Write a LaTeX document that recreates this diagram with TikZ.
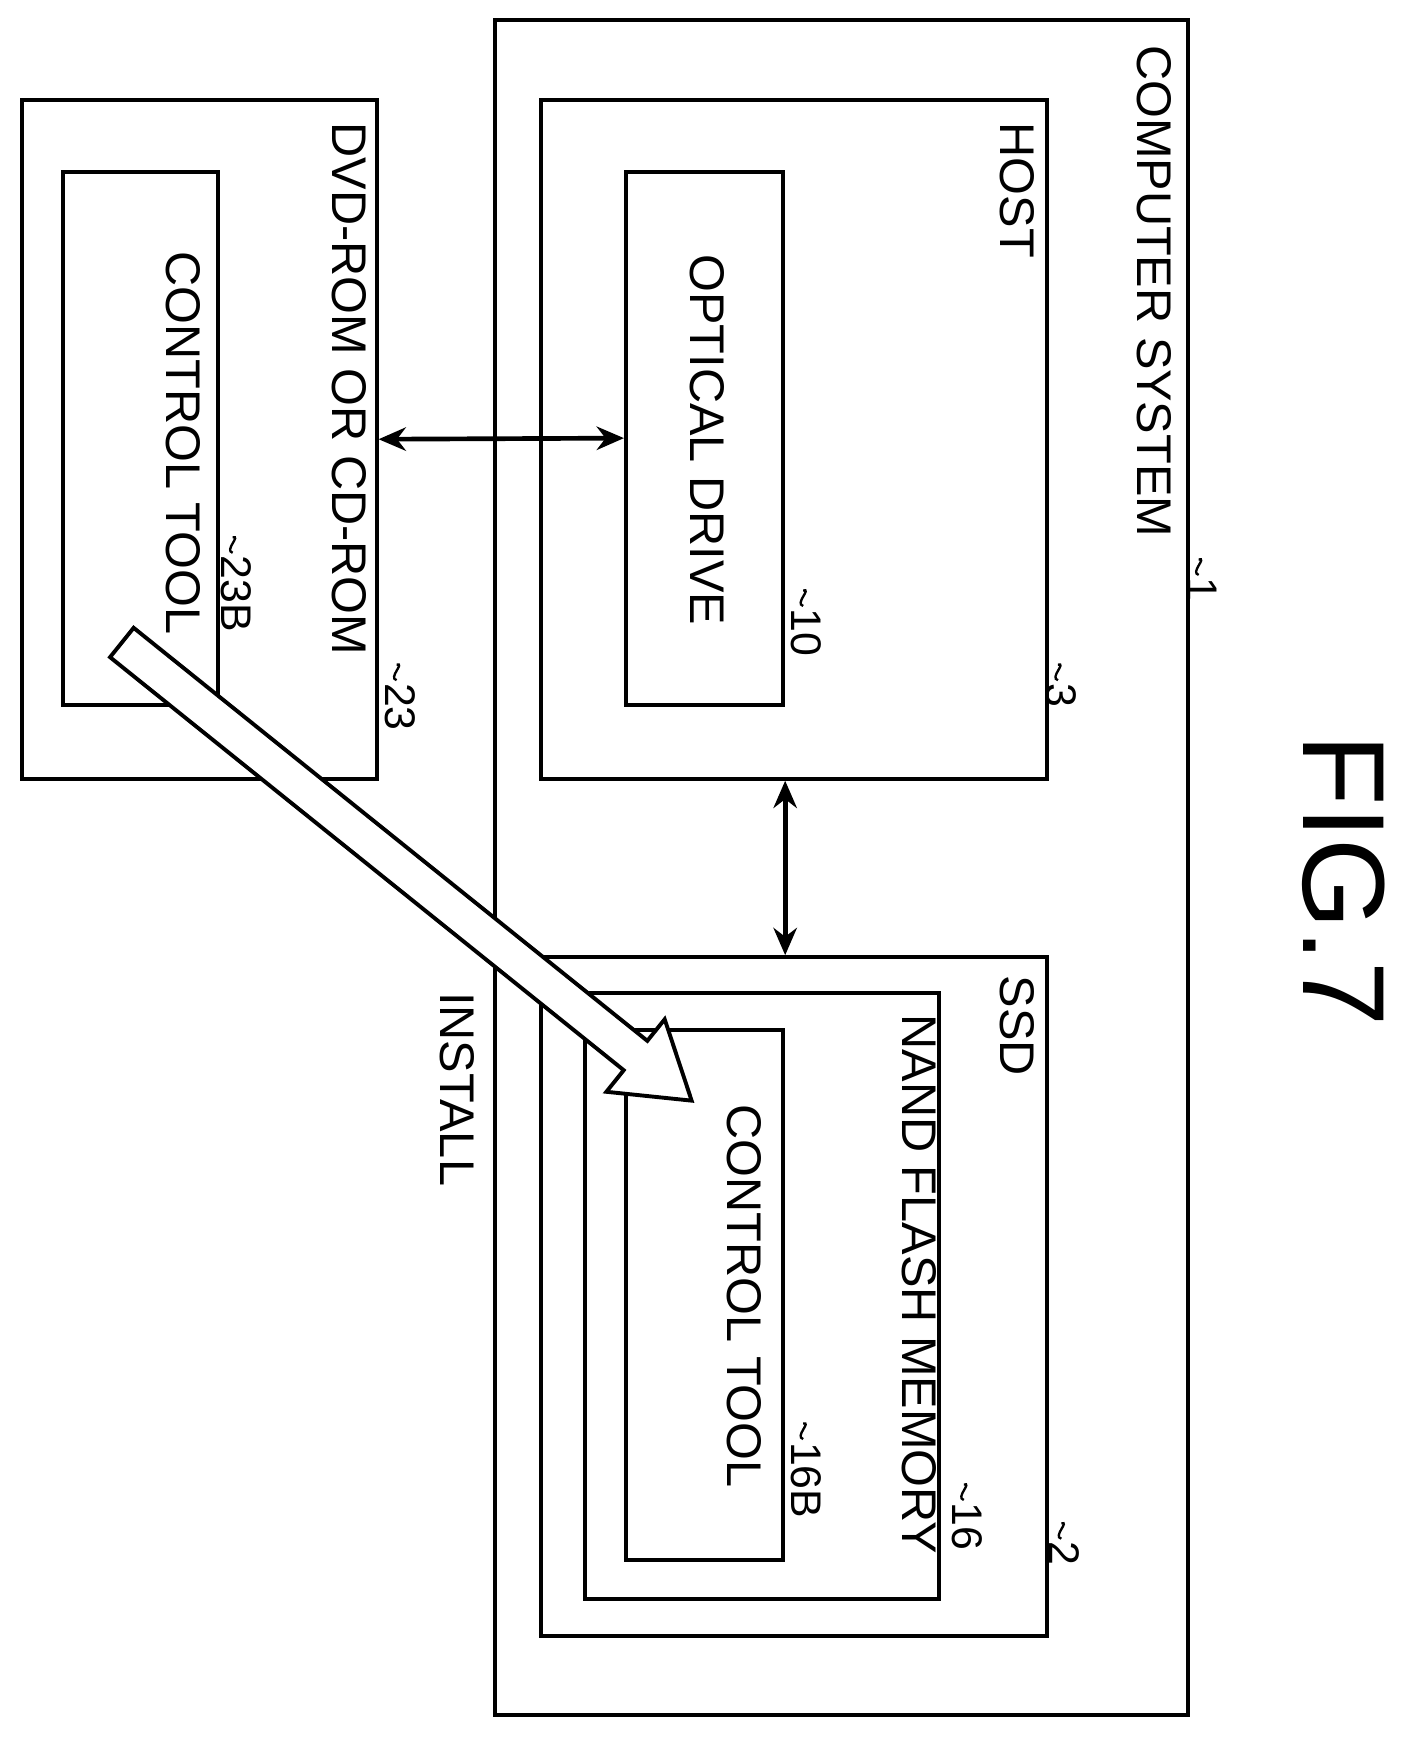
\documentclass[tikz,border=0pt]{standalone}
\usepackage{fontspec}
\setmainfont{Liberation Sans}
\usetikzlibrary{arrows.meta}
\tikzset{
  box/.style={draw, line width=1pt, inner sep=0pt},
  lbl/.style={rotate=-90, anchor=west, inner sep=0pt, font=\fontsize{12.5}{14}\selectfont},
  refn/.style={rotate=-90, anchor=west, inner sep=0pt, font=\fontsize{11}{13}\selectfont},
  link/.style={{Stealth[length=7pt,width=6pt]}-{Stealth[length=7pt,width=6pt]}, line width=1.2pt}
}
% reference mark: squiggle then number
\newcommand{\refmark}[3]{%
  \draw[line width=0.6pt] (#1,#2) .. controls (#1+0.08,#2+0.02) and (#1-0.08,#2-0.12) .. (#1,#2-0.14);
  \node[refn] at (#1+0.03,#2-0.16) {#3};}
\begin{document}
\begin{tikzpicture}
\useasboundingbox (0,0) rectangle (12.8,-15.77);
% outer system
\node[box, minimum width=6.25cm, minimum height=15.3cm] (sys) at (7.595,-7.83) {};
\node[lbl] (syslbl) at (10.42,-0.4) {COMPUTER SYSTEM};
\refmark{10.82}{-5.05}{1}
% host
\node[box, minimum width=4.57cm, minimum height=6.13cm] (host) at (7.165,-3.965) {};
\node[lbl] (hostlbl) at (9.18,-1.1) {HOST};
\refmark{9.55}{-6.0}{3}
\node[box, minimum width=1.42cm, minimum height=4.81cm] (drive) at (6.36,-3.955) {};
\node[lbl, anchor=center] (drivelbl) at (6.38,-3.97) {OPTICAL DRIVE};
\refmark{7.25}{-5.33}{10}
% ssd
\node[box, minimum width=4.57cm, minimum height=6.13cm] (ssd) at (7.165,-11.705) {};
\node[lbl] (ssdlbl) at (9.18,-8.8) {SSD};
\refmark{9.58}{-13.75}{2}
\node[box, minimum width=3.2cm, minimum height=5.47cm] (nand) at (6.88,-11.695) {};
\node[lbl] (nandlbl) at (8.3,-9.15) {NAND FLASH MEMORY};
\refmark{8.7}{-13.4}{16}
\node[box, minimum width=1.42cm, minimum height=4.78cm] (tool) at (6.36,-11.69) {};
\node[lbl, anchor=center] (toollbl) at (6.72,-11.7) {CONTROL TOOL};
\refmark{7.25}{-12.85}{16B}
% media
\node[box, minimum width=3.2cm, minimum height=6.13cm] (dvd) at (1.8,-3.965) {};
\node[lbl] (dvdlbl) at (3.15,-1.1) {DVD-ROM OR CD-ROM};
\refmark{3.58}{-6.0}{23}
\node[box, minimum width=1.4cm, minimum height=4.81cm] (media) at (1.27,-3.955) {};
\node[lbl, anchor=center] (medialbl) at (1.65,-4.0) {CONTROL TOOL};
\refmark{2.1}{-4.85}{23B}
% connections
\draw[link] (dvd.east) -- (drive.west);
\draw[link] (host.south -| drive.east) -- (ssd.north -| drive.east);
% hollow install arrow
\begin{scope}[shift={(1.1,-5.8)}, rotate=-38.8]
  \draw[line width=1pt, fill=white] (0,0.17) -- (5.95,0.17) -- (5.95,0.42) -- (6.6,0)
    -- (5.95,-0.42) -- (5.95,-0.17) -- (0,-0.17) -- cycle;
\end{scope}
\node[lbl] (installlbl) at (4.13,-8.95) {INSTALL};
\node[rotate=-90, font=\fontsize{30}{34}\selectfont] (fig) at (12.13,-7.95) {FIG.7};
\end{tikzpicture}
\end{document}
